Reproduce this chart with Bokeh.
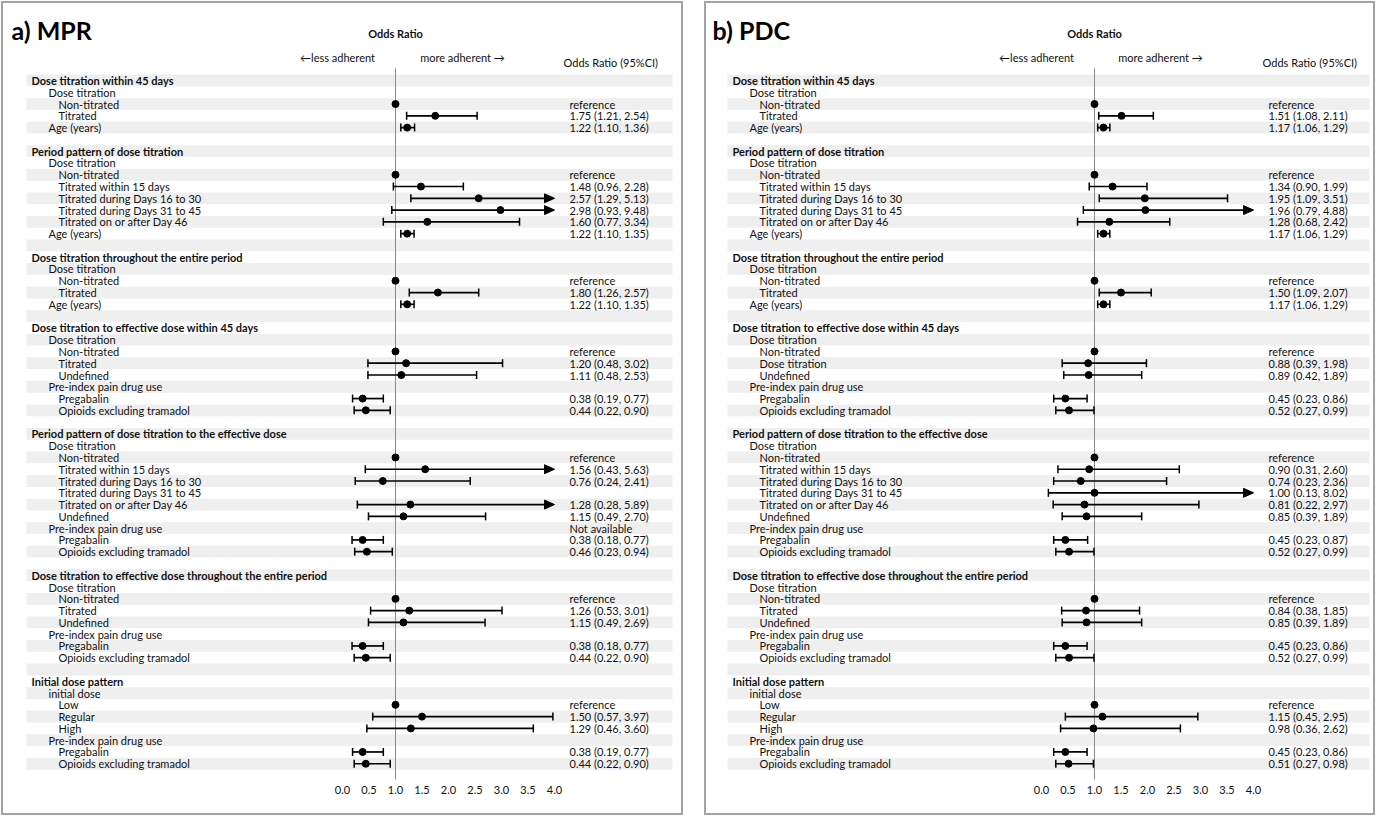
from bokeh.plotting import figure
from bokeh.layouts import row
from bokeh.models import Range1d, FixedTicker, NumeralTickFormatter
from bokeh.core.properties import value
from bokeh.embed import file_html
from bokeh.resources import INLINE

N = None
FONT = "Lato"

# ---------------- data ----------------
labels_a = [
    "Dose titration within 45 days", "Dose titration", "Non-titrated", "Titrated", "Age (years)", "",
    "Period pattern of dose titration", "Dose titration", "Non-titrated", "Titrated within 15 days",
    "Titrated during Days 16 to 30", "Titrated during Days 31 to 45", "Titrated on or after Day 46", "Age (years)", "",
    "Dose titration throughout the entire period", "Dose titration", "Non-titrated", "Titrated", "Age (years)", "",
    "Dose titration to effective dose within 45 days", "Dose titration", "Non-titrated", "Titrated", "Undefined",
    "Pre-index pain drug use", "Pregabalin", "Opioids excluding tramadol", "",
    "Period pattern of dose titration to the effective dose", "Dose titration", "Non-titrated", "Titrated within 15 days",
    "Titrated during Days 16 to 30", "Titrated during Days 31 to 45", "Titrated on or after Day 46", "Undefined",
    "Pre-index pain drug use", "Pregabalin", "Opioids excluding tramadol", "",
    "Dose titration to effective dose throughout the entire period", "Dose titration", "Non-titrated", "Titrated",
    "Undefined", "Pre-index pain drug use", "Pregabalin", "Opioids excluding tramadol", "",
    "Initial dose pattern", "initial dose", "Low", "Regular", "High", "Pre-index pain drug use", "Pregabalin",
    "Opioids excluding tramadol",
]
labels_b = list(labels_a)
labels_b[24] = "Dose titration"

levels = [
    0, 1, 2, 2, 1, -1,
    0, 1, 2, 2, 2, 2, 2, 1, -1,
    0, 1, 2, 2, 1, -1,
    0, 1, 2, 2, 2, 1, 2, 2, -1,
    0, 1, 2, 2, 2, 2, 2, 2, 1, 2, 2, -1,
    0, 1, 2, 2, 2, 1, 2, 2, -1,
    0, 1, 2, 2, 2, 1, 2, 2,
]

or_a = [N, N, 1.00, 1.75, 1.22, N,
        N, N, 1.00, 1.48, 2.57, 2.98, 1.60, 1.22, N,
        N, N, 1.00, 1.80, 1.22, N,
        N, N, 1.00, 1.20, 1.11, N, 0.38, 0.44, N,
        N, N, 1.00, 1.56, 0.76, N, 1.28, 1.15, N, 0.38, 0.46, N,
        N, N, 1.00, 1.26, 1.15, N, 0.38, 0.44, N,
        N, N, 1.00, 1.50, 1.29, N, 0.38, 0.44]
lo_a = [N, N, N, 1.21, 1.10, N,
        N, N, N, 0.96, 1.29, 0.93, 0.77, 1.10, N,
        N, N, N, 1.26, 1.10, N,
        N, N, N, 0.48, 0.48, N, 0.19, 0.22, N,
        N, N, N, 0.43, 0.24, N, 0.28, 0.49, N, 0.18, 0.23, N,
        N, N, N, 0.53, 0.49, N, 0.18, 0.22, N,
        N, N, N, 0.57, 0.46, N, 0.19, 0.22]
hi_a = [N, N, N, 2.54, 1.36, N,
        N, N, N, 2.28, 5.13, 9.48, 3.34, 1.35, N,
        N, N, N, 2.57, 1.35, N,
        N, N, N, 3.02, 2.53, N, 0.77, 0.90, N,
        N, N, N, 5.63, 2.41, N, 5.89, 2.70, N, 0.77, 0.94, N,
        N, N, N, 3.01, 2.69, N, 0.77, 0.90, N,
        N, N, N, 3.97, 3.60, N, 0.77, 0.90]
notes_a = {38: "Not available"}

or_b = [N, N, 1.00, 1.51, 1.17, N,
        N, N, 1.00, 1.34, 1.95, 1.96, 1.28, 1.17, N,
        N, N, 1.00, 1.50, 1.17, N,
        N, N, 1.00, 0.88, 0.89, N, 0.45, 0.52, N,
        N, N, 1.00, 0.90, 0.74, 1.00, 0.81, 0.85, N, 0.45, 0.52, N,
        N, N, 1.00, 0.84, 0.85, N, 0.45, 0.52, N,
        N, N, 1.00, 1.15, 0.98, N, 0.45, 0.51]
lo_b = [N, N, N, 1.08, 1.06, N,
        N, N, N, 0.90, 1.09, 0.79, 0.68, 1.06, N,
        N, N, N, 1.09, 1.06, N,
        N, N, N, 0.39, 0.42, N, 0.23, 0.27, N,
        N, N, N, 0.31, 0.23, 0.13, 0.22, 0.39, N, 0.23, 0.27, N,
        N, N, N, 0.38, 0.39, N, 0.23, 0.27, N,
        N, N, N, 0.45, 0.36, N, 0.23, 0.27]
hi_b = [N, N, N, 2.11, 1.29, N,
        N, N, N, 1.99, 3.51, 4.88, 2.42, 1.29, N,
        N, N, N, 2.07, 1.29, N,
        N, N, N, 1.98, 1.89, N, 0.86, 0.99, N,
        N, N, N, 2.60, 2.36, 8.02, 2.97, 1.89, N, 0.87, 0.99, N,
        N, N, N, 1.85, 1.89, N, 0.86, 0.99, N,
        N, N, N, 2.95, 2.62, N, 0.86, 0.98]
notes_b = {}

tick_values = [0.0, 0.5, 1.0, 1.5, 2.0, 2.5, 3.0, 3.5, 4.0]
X_MAX = 4.0

# ---------------- layout constants (pixels) ----------------
ROW_PX = 11.78
ROW0_Y = 80
TOP_Y = 3
PANEL_H = 814
BOTTOM_BORDER = 38
PX_PER_UNIT = 53
TXT = "#111111"
CAP_PX = 8
HEAD_L_PX = 10
HEAD_H_PX = 9


def make_panel(title, labels, ors, los, his, notes, left, width, px0, lay):
    def X(px):
        return (px - px0) / PX_PER_UNIT

    def Y(py):
        return (py - ROW0_Y) / ROW_PX

    p = figure(width=width, height=PANEL_H,
               x_range=Range1d(X(left), X(left + width)),
               y_range=Range1d(Y(TOP_Y + PANEL_H - BOTTOM_BORDER), Y(TOP_Y)),
               output_backend="svg", toolbar_location=None,
               min_border_left=0, min_border_right=0, min_border_top=0,
               min_border_bottom=BOTTOM_BORDER,
               outline_line_color=None, background_fill_color="white",
               border_fill_color="white",
               styles={"border": "2px solid #a3a3a3", "box-sizing": "border-box"})
    p.grid.visible = False
    p.yaxis.visible = False
    ax = p.xaxis[0]
    ax.ticker = FixedTicker(ticks=tick_values)
    ax.formatter = NumeralTickFormatter(format="0.0")
    ax.axis_line_color = None
    ax.major_tick_line_color = None
    ax.minor_tick_line_color = None
    ax.major_tick_out = 0
    ax.major_tick_in = 0
    ax.major_label_standoff = 6
    ax.major_label_text_font = FONT
    ax.major_label_text_font_size = "11px"
    ax.major_label_text_color = TXT

    rows = list(range(len(labels)))
    # shading
    shaded = [r for r in rows if r % 2 == 0]
    p.hbar(y=shaded, left=X(lay["shade"][0]), right=X(lay["shade"][1]), height=1.0,
           fill_color="#efefef", line_color=None)

    # reference line at OR = 1
    p.segment(x0=[1.0], x1=[1.0], y0=[Y(68)], y1=[Y(779)], line_color="#8a8a8a", line_width=1)

    # row labels
    for lev, xx, bold in [(0, lay["x0"], True), (1, lay["x1"], False), (2, lay["x2"], False)]:
        rr = [r for r in rows if levels[r] == lev]
        p.text(x=X(xx), y=rr, text=[labels[r] for r in rr], text_font=value(FONT),
               text_font_size="11px", text_baseline="middle", text_color=TXT,
               text_font_style="bold" if bold else "normal")

    # right-hand text
    rt_rows, rt_text = [], []
    for r in rows:
        if r in notes:
            rt_rows.append(r); rt_text.append(notes[r])
        elif ors[r] is not None and los[r] is None:
            rt_rows.append(r); rt_text.append("reference")
        elif los[r] is not None:
            rt_rows.append(r); rt_text.append(f"{ors[r]:.2f} ({los[r]:.2f}, {his[r]:.2f})")
    p.text(x=X(lay["xr"]), y=rt_rows, text=rt_text, text_font=value(FONT), text_font_size="11px",
           text_baseline="middle", text_color=TXT)

    # confidence intervals
    ci_rows = [r for r in rows if los[r] is not None]
    head_l = HEAD_L_PX / PX_PER_UNIT
    cap_h = CAP_PX / 2 / ROW_PX
    head_h = HEAD_H_PX / 2 / ROW_PX
    x_end = [min(his[r], X_MAX) - (head_l * 0.5 if his[r] > X_MAX else 0) for r in ci_rows]
    p.segment(x0=[los[r] for r in ci_rows], x1=x_end, y0=ci_rows, y1=ci_rows,
              line_color="black", line_width=1.7)
    # caps
    cap_x = [los[r] for r in ci_rows] + [his[r] for r in ci_rows if his[r] <= X_MAX]
    cap_y = ci_rows + [r for r in ci_rows if his[r] <= X_MAX]
    p.segment(x0=cap_x, x1=cap_x, y0=[y - cap_h for y in cap_y], y1=[y + cap_h for y in cap_y],
              line_color="black", line_width=1.5)
    # arrow heads for intervals beyond the axis
    clipped = [r for r in ci_rows if his[r] > X_MAX]
    p.patches(xs=[[X_MAX, X_MAX - head_l, X_MAX - head_l] for r in clipped],
              ys=[[r, r - head_h, r + head_h] for r in clipped],
              fill_color="black", line_color="black", line_width=1)

    # point estimates
    pt_rows = [r for r in rows if ors[r] is not None]
    p.scatter(x=[ors[r] for r in pt_rows], y=pt_rows, size=7, marker="circle",
              fill_color="black", line_color="black")

    # headings
    p.text(x=X(lay["title_x"]), y=Y(29), text=[title], text_font=value(FONT), text_font_size="25px",
           text_font_style="bold", text_baseline="middle", text_color="black")
    p.text(x=[1.0], y=Y(33), text=["Odds Ratio"], text_font=value(FONT), text_font_size="11px",
           text_font_style="bold", text_baseline="middle", text_align="center", text_color=TXT)
    p.text(x=X(lay["less_x"]), y=Y(57), text=["\u2190less adherent"], text_font=value(FONT),
           text_font_size="11px", text_baseline="middle", text_align="center", text_color=TXT)
    p.text(x=X(lay["more_x"]), y=Y(57), text=["more adherent \u2192"], text_font=value(FONT),
           text_font_size="11px", text_baseline="middle", text_align="center", text_color=TXT)
    p.text(x=X(lay["xh"]), y=Y(62), text=["Odds Ratio (95%CI)"], text_font=value(FONT),
           text_font_size="11px", text_baseline="middle", text_color=TXT)
    return p


lay_a = dict(shade=(26, 672), x0=31, x1=48, x2=58, xr=569, xh=563, title_x=11, less_x=337, more_x=462)
lay_b = dict(shade=(727, 1369), x0=732, x1=749, x2=759, xr=1268, xh=1262, title_x=712, less_x=1036, more_x=1160)

pa = make_panel("a) MPR", labels_a, or_a, lo_a, hi_a, notes_a, 3, 682, 342, lay_a)
pb = make_panel("b) PDC", labels_b, or_b, lo_b, hi_b, notes_b, 706, 671, 1041, lay_b)

layout = row(pa, pb, spacing=21, styles={"margin-left": "1px", "margin-top": "1px"})
open("out.html", "w").write(file_html(layout, INLINE))
